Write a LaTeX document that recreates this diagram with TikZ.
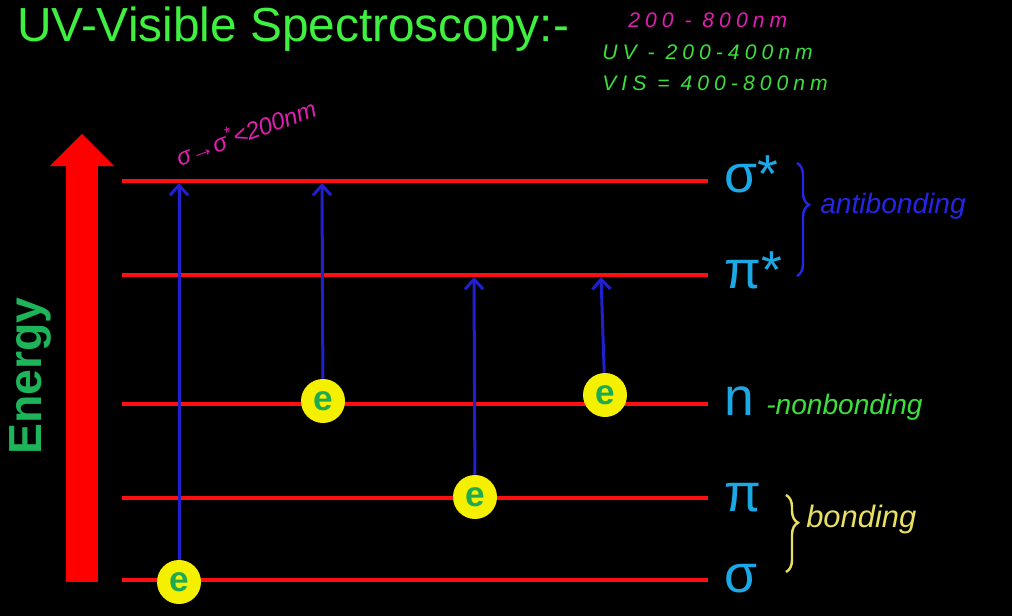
\documentclass[tikz,border=0pt]{standalone}
\usepackage{fontspec}
\setmainfont{Liberation Sans}
\newfontfamily\spacedhand{Liberation Sans}[LetterSpace=24]
\usetikzlibrary{arrows.meta,decorations.pathreplacing,positioning}
\definecolor{titlegreen}{HTML}{40F040}
\definecolor{levelred}{HTML}{FF1010}
\definecolor{labelblue}{HTML}{1CA8E4}
\definecolor{arrowblue}{HTML}{2020D0}
\definecolor{electronyellow}{HTML}{F4F000}
\definecolor{egreen}{HTML}{1DAA50}
\definecolor{energygreen}{HTML}{1DB45A}
\definecolor{energyred}{HTML}{FF0000}
\definecolor{handpink}{HTML}{E020B0}
\definecolor{handgreen}{HTML}{3CE03C}
\definecolor{handblue}{HTML}{2525E8}
\definecolor{handyellow}{HTML}{E8E060}
\tikzset{
  titletext/.style={
    anchor=base west,
    inner sep=0pt,
    text=titlegreen,
    font=\fontsize{34}{40}\selectfont
  },
  energytext/.style={
    anchor=base,
    rotate=90,
    inner sep=0pt,
    text=energygreen,
    font=\bfseries\fontsize{33}{40}\selectfont
  },
  energyarrow/.style={
    draw=energyred,
    line width=0.8cm,
    -{Triangle[length=0.8cm,width=1.6cm,line width=0pt]}
  },
  orbital/.style={draw=levelred,line width=0.1cm},
  levellabel/.style={
    anchor=base west,
    inner sep=0pt,
    text=labelblue,
    font=\fontsize{38}{44}\selectfont
  },
  electron/.style={
    circle,
    fill=electronyellow,
    minimum size=1.1cm,
    inner sep=0pt,
    text=egreen,
    font=\bfseries\fontsize{25}{30}\selectfont
  },
  excite/.style={
    draw=arrowblue,
    line width=0.075cm,
    -{Straight Barb[length=0.25cm,width=0.45cm]}
  },
  note/.style={
    anchor=base west,
    inner sep=0pt,
    text=#1,
    font=\spacedhand\itshape\fontsize{15}{18}\selectfont
  },
  hand/.style={
    anchor=base west,
    inner sep=0pt,
    text=#1,
    font=\itshape\fontsize{20}{24}\selectfont
  },
  handbrace/.style={
    draw=#1,
    line width=0.06cm,
    decorate,
    decoration={brace,amplitude=0.3cm}
  }
}

\begin{document}
\begin{tikzpicture}[x=0.025cm,y=-0.025cm]
  \fill[black] (0,0) rectangle (1012,616);
  \useasboundingbox (0,0) rectangle (1012,616);

  \node[titletext] (title) at (17,42) {UV-Visible Spectroscopy:-};

  % wavelength notes
  \node[note=handpink] (fullrange) at (628,28) {200 - 800nm};
  \node[note=handgreen] (uvrange) at (602,60) {UV - 200-400nm};
  \node[note=handgreen] (visrange) at (602,91) {VIS = 400-800nm};
  \node[hand=handpink,anchor=base,rotate=20,font=\itshape\fontsize{17}{20}\selectfont] (sigmanote) at (249,141) {σ→σ\textsuperscript{*}<200nm};

  % energy axis
  \coordinate (energylow) at (82,582);
  \coordinate (energyhigh) at (82,134);
  \draw[energyarrow] (energylow) -- (energyhigh);
  \node[energytext] (energylabel) at (42,376) {Energy};

  % orbital levels
  \coordinate (sigmastarL) at (122,181);
  \coordinate (sigmastarR) at (708,181);
  \coordinate (pistarL) at (122,275);
  \coordinate (pistarR) at (708,275);
  \coordinate (nonbondL) at (122,404);
  \coordinate (nonbondR) at (708,404);
  \coordinate (piL) at (122,498);
  \coordinate (piR) at (708,498);
  \coordinate (sigmaL) at (122,580);
  \coordinate (sigmaR) at (708,580);
  \draw[orbital] (sigmastarL) -- (sigmastarR);
  \draw[orbital] (pistarL) -- (pistarR);
  \draw[orbital] (nonbondL) -- (nonbondR);
  \draw[orbital] (piL) -- (piR);
  \draw[orbital] (sigmaL) -- (sigmaR);

  \node[levellabel] (lsigmastar) at (724,193) {σ*};
  \node[levellabel] (lpistar) at (724,288) {π*};
  \node[levellabel] (lnonbond) at (724,415) {n};
  \node[levellabel] (lpi) at (724,511) {π};
  \node[levellabel] (lsigma) at (724,592) {σ};

  % transitions
  \coordinate (top1) at (179,183);
  \coordinate (top2) at (322,183);
  \coordinate (top3) at (474,277);
  \coordinate (top4) at (601,277);
  \node[electron] (e1) at (179,582) {e};
  \node[electron] (e2) at (323,401) {e};
  \node[electron] (e3) at (475,497) {e};
  \node[electron] (e4) at (605,395) {e};
  \draw[excite] (e1) -- (top1);
  \draw[excite] (e2) -- (top2);
  \draw[excite] (e3) -- (top3);
  \draw[excite] (e4) -- (top4);

  % orbital groups
  \coordinate (antitop) at (797,163);
  \coordinate (antibottom) at (797,276);
  \draw[handbrace=handblue,decoration={aspect=0.37}] (antitop) -- (antibottom);
  \node[hand=handblue] (antilabel) at (820,214) {antibonding};
  \node[hand=handgreen] (nonlabel) at (766,414) {-nonbonding};
  \coordinate (bondtop) at (786,495);
  \coordinate (bondbottom) at (786,572);
  \draw[handbrace=handyellow,decoration={aspect=0.36}] (bondtop) -- (bondbottom);
  \node[hand=handyellow,font=\itshape\fontsize{22}{26}\selectfont] (bondlabel) at (806,527) {bonding};
\end{tikzpicture}
\end{document}
